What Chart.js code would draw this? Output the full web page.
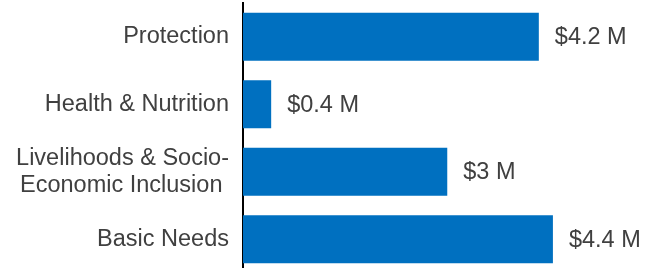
<!DOCTYPE html>
<html>
<head>
<meta charset="utf-8">
<script src="https://cdn.jsdelivr.net/npm/chart.js@4.4.1/dist/chart.umd.min.js"></script>
<style>
  html, body { margin: 0; padding: 0; background: #ffffff; overflow: hidden; }
  #wrap { width: 648px; height: 268px; overflow: hidden; position: relative; }
  canvas { display: block; }
</style>
</head>
<body>
<div id="wrap"><canvas id="c" width="648" height="273"></canvas></div>
<script>
const categories = ["Protection", "Health & Nutrition", ["Livelihoods & Socio-", "Economic Inclusion "], "Basic Needs"];
const fundingMillions = [4.2, 0.4, 2.9, 4.4];
const valueLabels = ["$4.2 M", "$0.4 M", "$3 M", "$4.4 M"];
const xMax = 5.75;

const FONT = "'Liberation Sans', Arial, sans-serif";
const TEXT = "#404040";

const valueLabelPlugin = {
  id: "valueLabels",
  afterDatasetsDraw(chart) {
    const ctx = chart.ctx;
    const meta = chart.getDatasetMeta(0);
    ctx.save();
    ctx.font = "23.5px " + FONT;
    ctx.fillStyle = TEXT;
    ctx.textAlign = "left";
    ctx.textBaseline = "middle";
    meta.data.forEach((bar, i) => {
      ctx.fillText(valueLabels[i], bar.x + 16, bar.y + 1);
    });
    ctx.restore();
  }
};

new Chart(document.getElementById("c"), {
  type: "bar",
  data: {
    labels: categories,
    datasets: [{
      data: fundingMillions,
      backgroundColor: "#0070C0",
      borderWidth: 0,
      categoryPercentage: 1,
      barPercentage: 0.711
    }]
  },
  options: {
    indexAxis: "y",
    responsive: false,
    animation: false,
    events: [],
    layout: { padding: { top: 3, bottom: 0, left: 0, right: 0 } },
    plugins: { legend: { display: false }, tooltip: { enabled: false } },
    scales: {
      x: { display: false, min: 0, max: xMax },
      y: {
        z: 1,
        grid: { display: false, drawTicks: false },
        border: { display: true, color: "#000000", width: 2 },
        ticks: {
          color: TEXT,
          font: { family: FONT, size: 23.5, lineHeight: 1.13 },
          padding: 14,
          autoSkip: false
        },
        afterFit(scale) {
          scale.width = 243;
          scale.paddingTop = 0;
          scale.paddingBottom = 0;
        }
      }
    }
  },
  plugins: [valueLabelPlugin]
});
</script>
</body>
</html>
